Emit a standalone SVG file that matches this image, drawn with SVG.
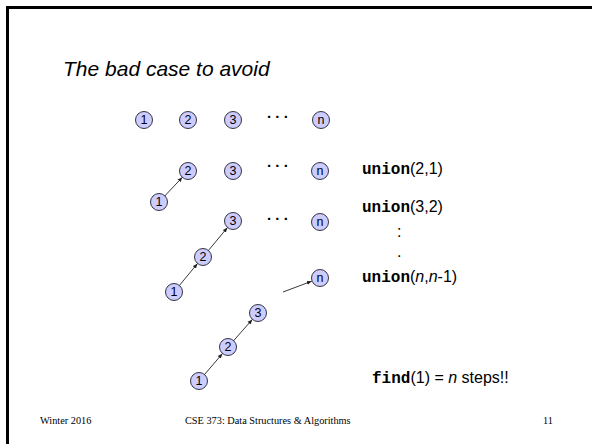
<svg xmlns="http://www.w3.org/2000/svg" width="592" height="444" viewBox="0 0 592 444">
  <style>
    .node circle { fill: #ccccff; stroke: #333344; stroke-width: 1; }
    .node text { font-family: "Liberation Sans", Arial, sans-serif; font-size: 12.5px; fill: #000; text-anchor: middle; dominant-baseline: central; }
    .edge { stroke: #222; stroke-width: 0.9; fill: none; marker-end: url(#arrow); }
    .dots { font-family: "Liberation Sans", Arial, sans-serif; font-size: 15px; font-weight: bold; fill: #000; }
    .label { font-family: "Liberation Sans", Arial, sans-serif; font-size: 16px; fill: #000; }
    .code { font-family: "Liberation Mono", "Courier New", monospace; font-weight: bold; }
    .foot { font-family: "Liberation Serif", "Times New Roman", serif; font-size: 10.3px; fill: #000; }
  </style>
  <defs>
    <marker id="arrow" viewBox="0 0 10 10" refX="10" refY="5" markerWidth="5" markerHeight="5" orient="auto" markerUnits="userSpaceOnUse">
      <path d="M0,1 L10,5 L0,9 Z" fill="#222"/>
    </marker>
  </defs>

  <rect width="592" height="444" fill="#fff"/>
  <!-- slide frame -->
  <rect x="7.5" y="7.5" width="620" height="470" fill="none" stroke="#000" stroke-width="3"/>

  <text x="63" y="76" font-family="Liberation Sans, Arial, sans-serif" font-size="21" font-style="italic" fill="#000">The bad case to avoid</text>

  <!-- connectors -->
  <g id="connectors">
    <line class="edge" x1="159" y1="202" x2="182.4" y2="177.3"/>
    <line class="edge" x1="174" y1="292" x2="197.5" y2="263.5"/>
    <line class="edge" x1="203" y1="257" x2="227.5" y2="227.5"/>
    <line class="edge" x1="283" y1="292" x2="311.8" y2="281.2"/>
    <line class="edge" x1="199" y1="381" x2="222.5" y2="353.5"/>
    <line class="edge" x1="228" y1="347" x2="252.4" y2="319.4"/>
  </g>

  <!-- row 1 -->
  <g id="r1-1" class="node"><circle cx="144" cy="120" r="8.5"/><text x="144" y="120">1</text></g>
  <g id="r1-2" class="node"><circle cx="188" cy="120" r="8.5"/><text x="188" y="120">2</text></g>
  <g id="r1-3" class="node"><circle cx="233" cy="120" r="8.5"/><text x="233" y="120">3</text></g>
  <text class="dots" x="267" y="118">. . .</text>
  <g id="r1-n" class="node"><circle cx="321" cy="120" r="8.5"/><text x="321" y="120">n</text></g>

  <!-- row 2 -->
  <g id="r2-1" class="node"><circle cx="159" cy="202" r="8.5"/><text x="159" y="202">1</text></g>
  <g id="r2-2" class="node"><circle cx="188" cy="171" r="8.5"/><text x="188" y="171">2</text></g>
  <g id="r2-3" class="node"><circle cx="233" cy="171" r="8.5"/><text x="233" y="171">3</text></g>
  <text class="dots" x="267" y="167">. . .</text>
  <g id="r2-n" class="node"><circle cx="320" cy="171" r="8.5"/><text x="320" y="171">n</text></g>

  <!-- row 3 -->
  <g id="r3-1" class="node"><circle cx="174" cy="292" r="8.5"/><text x="174" y="292">1</text></g>
  <g id="r3-2" class="node"><circle cx="203" cy="257" r="8.5"/><text x="203" y="257">2</text></g>
  <g id="r3-3" class="node"><circle cx="233" cy="221" r="8.5"/><text x="233" y="221">3</text></g>
  <text class="dots" x="267" y="220">. . .</text>
  <g id="r3-n" class="node"><circle cx="320" cy="222" r="8.5"/><text x="320" y="222">n</text></g>

  <!-- row 4 -->
  <g id="r4-n" class="node"><circle cx="320" cy="278" r="8.5"/><text x="320" y="278">n</text></g>
  <g id="r4-3" class="node"><circle cx="258" cy="313" r="8.5"/><text x="258" y="313">3</text></g>
  <g id="r4-2" class="node"><circle cx="228" cy="347" r="8.5"/><text x="228" y="347">2</text></g>
  <g id="r4-1" class="node"><circle cx="199" cy="381" r="8.5"/><text x="199" y="381">1</text></g>

  <!-- operations -->
  <text class="label" x="362" y="174"><tspan class="code">union</tspan>(2,1)</text>
  <text class="label" x="362" y="212"><tspan class="code">union</tspan>(3,2)</text>
  <text class="label" x="397" y="237">:</text>
  <text class="label" x="397" y="257">.</text>
  <text class="label" x="362" y="282"><tspan class="code">union</tspan>(<tspan font-style="italic">n</tspan>,<tspan font-style="italic">n</tspan>-1)</text>
  <text class="label" x="372" y="383"><tspan class="code">find</tspan>(1) = <tspan font-style="italic">n</tspan> steps!!</text>

  <!-- footer -->
  <text class="foot" x="40" y="424">Winter 2016</text>
  <text class="foot" x="185" y="424">CSE 373: Data Structures &amp; Algorithms</text>
  <text class="foot" x="543" y="424">11</text>
</svg>
